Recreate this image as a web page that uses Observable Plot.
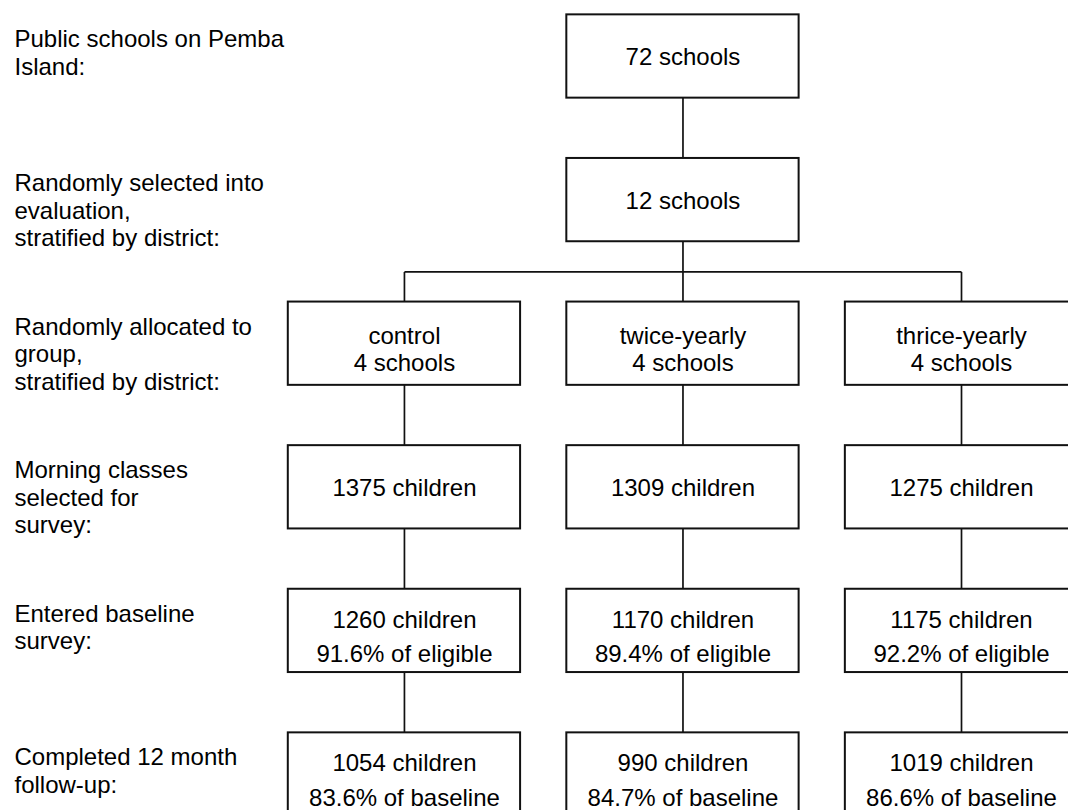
<!DOCTYPE html>
<html>
<head>
<meta charset="utf-8">
<script src="https://cdn.jsdelivr.net/npm/d3@7"></script>
<script src="https://cdn.jsdelivr.net/npm/@observablehq/plot@0.6"></script>
<style>
  html, body { margin: 0; padding: 0; background: #fff; overflow: hidden; }
  #chart svg { display: block; overflow: hidden; }
</style>
</head>
<body>
<div id="chart"></div>
<script>
// ---- data ----
const stageLabels = [
  "Public schools on Pemba\nIsland:",
  "Randomly selected into\nevaluation,\nstratified by district:",
  "Randomly allocated to\ngroup,\nstratified by district:",
  "Morning classes\nselected for\nsurvey:",
  "Entered baseline\nsurvey:",
  "Completed 12 month\nfollow-up:"
];
const groups = ["control", "twice-yearly", "thrice-yearly"];
const totalSchools = 72;
const selectedSchools = 12;
const schoolsPerGroup = [4, 4, 4];
const childrenSelected = [1375, 1309, 1275];
const childrenBaseline = [1260, 1170, 1175];
const pctOfEligible = [91.6, 89.4, 92.2];
const childrenFollowUp = [1054, 990, 1019];
const pctOfBaseline = [83.6, 84.7, 86.6];

// ---- layout (scale units: column index, stage index) ----
const HW = 0.417;   // half box width in column units
const HH = 0.29;    // half box height in stage units
const LABEL_COL = -2.4;
const lastStage = stageLabels.length - 1;

const boxes = [
  {col: 0, stage: 0, text: `${totalSchools} schools`, kind: "one"},
  {col: 0, stage: 1, text: `${selectedSchools} schools`, kind: "one"},
  ...groups.map((g, i) => ({col: i - 1, stage: 2, text: `${g}\n${schoolsPerGroup[i]} schools`, kind: "tight"})),
  ...groups.map((g, i) => ({col: i - 1, stage: 3, text: `${childrenSelected[i]} children`, kind: "one"})),
  ...groups.map((g, i) => ({col: i - 1, stage: 4, text: `${childrenBaseline[i]} children\n${pctOfEligible[i].toFixed(1)}% of eligible`, kind: "loose"})),
  ...groups.map((g, i) => ({col: i - 1, stage: 5, text: `${childrenFollowUp[i]} children\n${pctOfBaseline[i].toFixed(1)}% of baseline`, kind: "loose"}))
];

const links = [
  {x1: 0, y1: 0, x2: 0, y2: 1.5},
  {x1: -1, y1: 1.5, x2: 1, y2: 1.5},
  ...groups.map((g, i) => ({x1: i - 1, y1: 1.5, x2: i - 1, y2: lastStage}))
];

const labels = stageLabels.map((t, i) => ({stage: i, text: t}));

const font = "'Liberation Sans', Arial, Helvetica, sans-serif";

const chart = Plot.plot({
  width: 1068,
  height: 810,
  margin: 0,
  style: {fontFamily: font, fontSize: "24px", background: "#fff", color: "#000"},
  x: {type: "linear", domain: [LABEL_COL, 1], range: [14, 961], axis: null},
  y: {type: "linear", domain: [0, lastStage], range: [56, 774], axis: null},
  marks: [
    Plot.link(links, {x1: "x1", y1: "y1", x2: "x2", y2: "y2", stroke: "#111", strokeWidth: 1.7}),
    Plot.rect(boxes, {
      x1: d => d.col - HW, x2: d => d.col + HW,
      y1: d => d.stage - HH, y2: d => d.stage + HH,
      fill: "#fff", stroke: "#111", strokeWidth: 2
    }),
    Plot.text(boxes.filter(d => d.kind === "one"), {
      x: "col", y: "stage", text: "text", fill: "#000", fontSize: 24, dy: 1
    }),
    Plot.text(boxes.filter(d => d.kind === "tight"), {
      x: "col", y: "stage", text: "text", fill: "#000", fontSize: 24, lineHeight: 1.15, dy: 5
    }),
    Plot.text(boxes.filter(d => d.kind === "loose"), {
      x: "col", y: "stage", text: "text", fill: "#000", fontSize: 24, lineHeight: 1.45, dy: 3
    }),
    Plot.text(labels, {
      x: () => LABEL_COL, y: d => d.stage - HH, text: "text",
      textAnchor: "start", lineAnchor: "top", lineHeight: 1.15, dy: 13,
      fill: "#000", fontSize: 24
    })
  ]
});

document.getElementById("chart").appendChild(chart);
</script>
</body>
</html>
